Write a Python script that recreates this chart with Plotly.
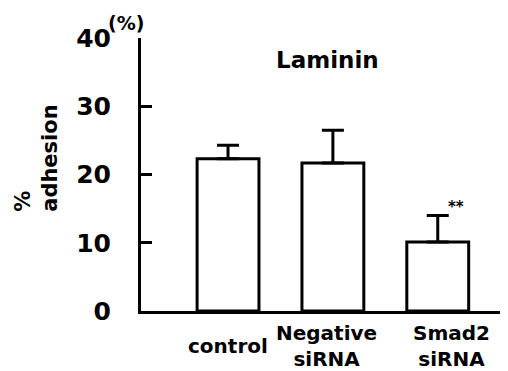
import plotly.graph_objects as go

categories = ["control", "Negative siRNA", "Smad2 siRNA"]
cat_labels = ["control", "Negative<br>siRNA", "Smad2<br>siRNA"]
values = [22.3, 21.7, 10.1]
err_up = [2.0, 4.8, 3.9]
y_ticks = [0, 10, 20, 30, 40]

FONT = "DejaVu Sans"
x_pos = [0, 1, 2]

fig = go.Figure()
fig.add_trace(go.Bar(
    x=x_pos, y=values, width=0.59,
    marker=dict(color="white", line=dict(color="black", width=3)),
    error_y=dict(type="data", array=err_up, arrayminus=[0, 0, 0], symmetric=False,
                 color="black", thickness=3, width=11),
    showlegend=False,
))

fig.update_layout(
    width=500, height=363,
    margin=dict(l=133, r=0, t=30, b=60),
    plot_bgcolor="white", paper_bgcolor="white",
    font=dict(family=FONT, color="black"),
    xaxis=dict(range=[-0.83, 2.67], showline=True, linecolor="black", linewidth=3,
               showticklabels=False, ticks="", showgrid=False, zeroline=False),
    yaxis=dict(range=[0, 40], tickvals=y_ticks, ticktext=[str(v) for v in y_ticks],
               showline=True, linecolor="black", linewidth=3, ticks="inside",
               ticklen=11, tickwidth=3, tickcolor="black", showgrid=False, zeroline=False,
               tickfont=dict(family=FONT, size=25, color="black", weight="bold"),
               ticklabelstandoff=22, automargin=False),
)

for i, lab in enumerate(cat_labels):
    shift = [0, -6, 14][i]
    fig.add_annotation(x=x_pos[i], y=0, xref="x", yref="paper", text="<b>%s</b>" % lab,
                       showarrow=False, xanchor="center", yanchor="middle", yshift=-35,
                       xshift=shift, font=dict(family=FONT, size=20, color="black"),
                       align="center")

fig.add_annotation(x=-0.287, y=0.56, xref="paper", yref="paper",
                   text="<b>%<br>adhesion</b>", textangle=-90, align="left",
                   xanchor="center", yanchor="middle",
                   showarrow=False, font=dict(family=FONT, size=21, color="black"))
fig.add_annotation(x=-0.041, y=1.055, xref="paper", yref="paper", text="<b>(%)</b>",
                   xanchor="center", yanchor="middle",
                   showarrow=False, font=dict(family=FONT, size=19, color="black"))
fig.add_annotation(x=0.507, y=0.919, xref="paper", yref="paper", text="<b>Laminin</b>",
                   xanchor="center", yanchor="middle",
                   showarrow=False, font=dict(family=FONT, size=23, color="black"))
fig.add_annotation(x=2, y=values[2] + err_up[2], xref="x", yref="y", text="<b>**</b>",
                   showarrow=False, xshift=18, yshift=8, xanchor="center", yanchor="middle",
                   font=dict(family=FONT, size=15, color="black"))

fig.write_html("out.html")
